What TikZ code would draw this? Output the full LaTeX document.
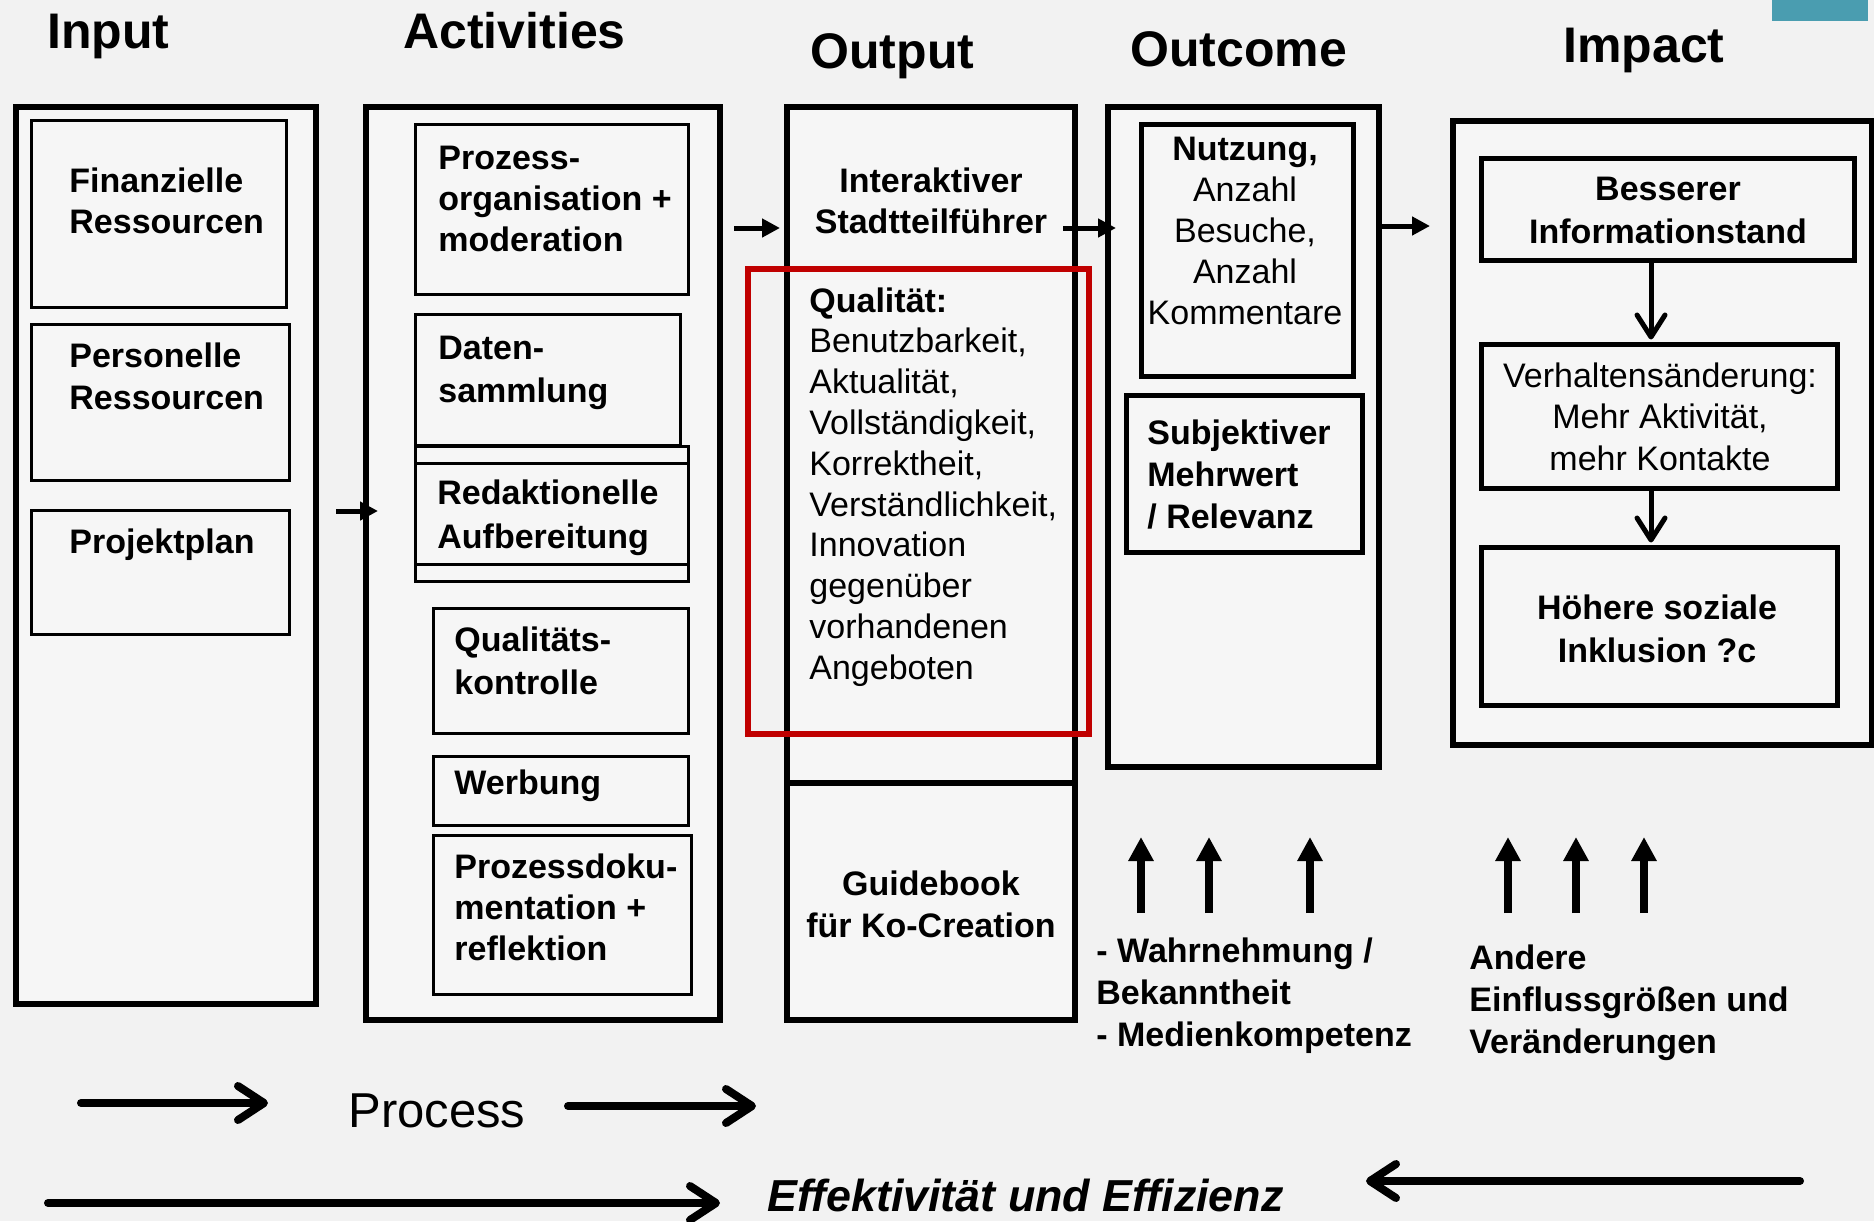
\documentclass[tikz,border=0pt]{standalone}
\usepackage{fontspec}
\setmainfont{Liberation Sans}
\usetikzlibrary{arrows.meta,fit}
\definecolor{bgc}{HTML}{F2F2F2}
\definecolor{boxbg}{HTML}{F6F6F6}
\definecolor{redq}{HTML}{C00000}
\definecolor{tealbar}{HTML}{4A9DB0}
\newcommand\mlines[2]{\begin{tabular}[t]{@{}#1@{}}#2\end{tabular}}
\newcommand\fsb[1]{\fontsize{17}{#1}\selectfont\bfseries}
\newcommand\fsr[1]{\fontsize{17}{#1}\selectfont}
\tikzset{
  outerbox/.style={draw, line width=3pt, fill=boxbg, inner sep=0pt},
  thinbox/.style={draw, line width=1.5pt, inner sep=0pt},
  midbox/.style={draw, line width=2.5pt, inner sep=0pt},
  redbox/.style={draw=redq, line width=3pt, inner sep=0pt},
  head/.style={anchor=base west, inner sep=0pt, font=\fontsize{25}{30}\selectfont\bfseries},
  lt/.style={anchor=base west, inner sep=0pt},
  ct/.style={anchor=base, inner sep=0pt},
  smallarr/.style={line width=2.5pt, -{Triangle[length=9pt,width=9pt]}},
  uparr/.style={line width=4pt, -{Triangle[length=12pt,width=12pt]}},
  barbarr/.style={line width=2.5pt, -{Straight Barb[length=11pt,width=14pt,round]}},
  bigarr/.style={line width=4pt, line cap=round, -{Straight Barb[length=13pt,width=17pt,round]}}
}
\begin{document}
\begin{tikzpicture}[x=0.5pt,y=-0.5pt]
\useasboundingbox (0,0) rectangle (1874,1221);
\fill[bgc] (0,0) rectangle (1874,1221);
\fill[tealbar] (1772,0) rectangle (1868,21);

% headers
\node[head] (hin) at (47,48) {Input};
\node[head] (hact) at (403,48) {Activities};
\node[head] (hout) at (810,68) {Output};
\node[head] (hoc) at (1130,66) {Outcome};
\node[head] (himp) at (1563,62) {Impact};

% Input column
\node[outerbox, fit={(16,107)(316,1004)}] (inp) {};
\node[thinbox, fit={(31,120)(286,307)}] (fin) {};
\node[thinbox, fit={(31,324)(289,480)}] (pers) {};
\node[thinbox, fit={(31,510)(289,634)}] (plan) {};
\node[lt, font=\fsb{20.5pt}] (tfin) at (69,192) {\mlines{l}{Finanzielle\\Ressourcen}};
\node[lt, font=\fsb{21pt}] (tpers) at (69,367) {\mlines{l}{Personelle\\Ressourcen}};
\node[lt, font=\fsb{21pt}] (tplan) at (69,553) {Projektplan};

% Activities column
\node[outerbox, fit={(366,107)(720,1020)}] (act) {};
\node[thinbox, fit={(415,124)(688,294)}] (proz) {};
\node[thinbox, fit={(415,314)(680,445)}] (dat) {};
\node[thinbox, fit={(415,446)(688,581)}] (redb) {};
\node[thinbox, fit={(415,463)(688,564)}] (redk) {};
\node[thinbox, fit={(433,608)(688,733)}] (qual) {};
\node[thinbox, fit={(433,756)(688,825)}] (werb) {};
\node[thinbox, fit={(433,835)(691,994)}] (doku) {};
\node[lt, font=\fsb{20.5pt}] (tproz) at (438,169) {\mlines{l}{Prozess-\\organisation +\\moderation}};
\node[lt, font=\fsb{21.5pt}] (tdat) at (438,359) {\mlines{l}{Daten-\\sammlung}};
\node[lt, font=\fsb{22pt}] (tredk) at (437,504) {\mlines{l}{Redaktionelle\\Aufbereitung}};
\node[lt, font=\fsb{21.5pt}] (tqual) at (454,651) {\mlines{l}{Qualitäts-\\kontrolle}};
\node[lt, font=\fsb{21pt}] (twerb) at (454,794) {Werbung};
\node[lt, font=\fsb{20.5pt}] (tdoku) at (454,878) {\mlines{l}{Prozessdoku-\\mentation +\\reflektion}};

% Output column
\node[outerbox, fit={(787,107)(1075,783)}] (outa) {};
\node[outerbox, fit={(787,783)(1075,1020)}] (outb) {};
\node[ct, font=\fsb{20.5pt}] (tint) at (931,192) {\mlines{c}{Interaktiver\\Stadtteilführer}};
\node[lt, font=\fsr{20.4pt}] (tqq) at (809,312) {\mlines{l}{\textbf{Qualität:}\\Benutzbarkeit,\\Aktualität,\\Vollständigkeit,\\Korrektheit,\\Verständlichkeit,\\Innovation\\gegenüber\\vorhandenen\\Angeboten}};
\node[redbox, fit={(748,269)(1089,734)}] (red) {};
\node[ct, font=\fsb{21pt}] (tguide) at (931,895) {\mlines{c}{Guidebook\\für Ko-Creation}};

% Outcome column
\node[outerbox, fit={(1108,107)(1379,767)}] (oc) {};
\node[midbox, fit={(1141,124)(1353,376)}] (nutz) {};
\node[midbox, fit={(1126,395)(1362,552)}] (subj) {};
\node[ct, font=\fsr{20.6pt}] (tnutz) at (1245,160) {\mlines{c}{\textbf{Nutzung,}\\Anzahl\\Besuche,\\Anzahl\\Kommentare}};
\node[lt, font=\fsb{21pt}] (tsubj) at (1147,444) {\mlines{l}{Subjektiver\\Mehrwert\\/ Relevanz}};
\node[lt, font=\fsb{21pt}] (twahr) at (1096,962) {\mlines{l}{- Wahrnehmung /\\Bekanntheit\\- Medienkompetenz}};

% Impact column
\node[outerbox, fit={(1453,121)(1872,745)}] (imp) {};
\node[midbox, fit={(1481,158)(1854,260)}] (bess) {};
\node[midbox, fit={(1481,344)(1837,488)}] (verh) {};
\node[midbox, fit={(1481,547)(1837,705)}] (hoeh) {};
\node[ct, font=\fsb{21.5pt}] (tbess) at (1668,200) {\mlines{c}{Besserer\\Informationstand}};
\node[ct, font=\fsr{20.75pt}] (tverh) at (1660,387) {\mlines{c}{Verhaltensänderung:\\Mehr Aktivität,\\mehr Kontakte}};
\node[ct, font=\fsb{21.5pt}] (thoeh) at (1657,619) {\mlines{c}{Höhere soziale\\Inklusion ?c}};
\node[lt, font=\fsb{21pt}] (tand) at (1469,969) {\mlines{l}{Andere\\Einflussgrößen und\\Veränderungen}};

% bottom texts
\node[lt, font=\fontsize{24.5}{29}\selectfont] (tproc) at (348,1127) {Process};
\node[lt, font=\fontsize{22.4}{27}\selectfont\bfseries\itshape] (teff) at (767,1211) {Effektivität und Effizienz};

% connector coordinates
\coordinate (a1s) at (336,511); \coordinate (a1e) at (378,511);
\coordinate (a2s) at (734,228); \coordinate (a2e) at (780,228);
\coordinate (a3s) at (1063,228); \coordinate (a3e) at (1116,228);
\coordinate (a4s) at (1381,226); \coordinate (a4e) at (1430,226);
\coordinate (ix) at (1651,0);
\draw[smallarr] (a1s) -- (a1e);
\draw[smallarr] (a2s) -- (a2e);
\draw[smallarr] (a3s) -- (a3e);
\draw[smallarr] (a4s) -- (a4e);
\draw[barbarr] (bess.south -| ix) -- ([yshift=1pt]verh.north -| ix);
\draw[barbarr] (verh.south -| ix) -- ([yshift=1pt]hoeh.north -| ix);

% up arrows
\foreach \x [count=\i] in {1141,1209,1310,1508,1576,1644}{
  \coordinate (u\i s) at (\x,913); \coordinate (u\i e) at (\x,837);
  \draw[uparr] (u\i s) -- (u\i e);
}

% bottom arrows
\coordinate (p1s) at (81,1103); \coordinate (p1e) at (268,1103);
\coordinate (p2s) at (568,1106); \coordinate (p2e) at (756,1106);
\coordinate (l1s) at (48,1203); \coordinate (l1e) at (720,1203);
\coordinate (r1s) at (1800,1181); \coordinate (r1e) at (1366,1181);
\draw[bigarr] (p1s) -- (p1e);
\draw[bigarr] (p2s) -- (p2e);
\draw[bigarr] (l1s) -- (l1e);
\draw[bigarr] (r1s) -- (r1e);
\end{tikzpicture}
\end{document}
